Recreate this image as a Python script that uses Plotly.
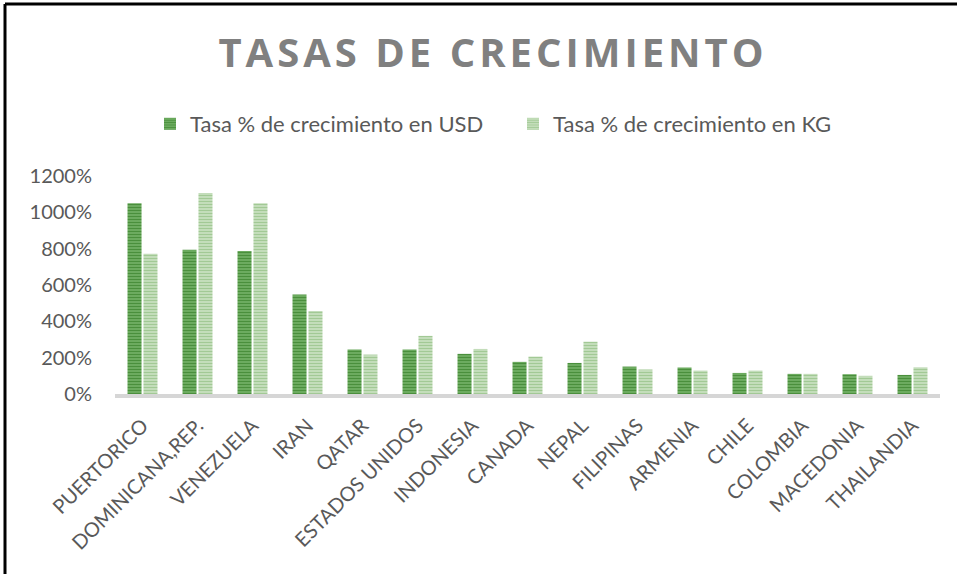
import plotly.graph_objects as go

categories = ["PUERTORICO", "DOMINICANA,REP.", "VENEZUELA", "IRAN", "QATAR",
              "ESTADOS UNIDOS", "INDONESIA", "CANADA", "NEPAL", "FILIPINAS",
              "ARMENIA", "CHILE", "COLOMBIA", "MACEDONIA", "THAILANDIA"]
usd_growth = [1050, 794, 787, 548, 245, 245, 221, 177, 171, 151, 146, 116, 111, 109, 105]
kg_growth = [772, 1107, 1050, 457, 217, 320, 248, 206, 288, 135, 129, 129, 111, 100, 147]
y_ticks = [0, 200, 400, 600, 800, 1000, 1200]
y_tick_labels = ["0%", "200%", "400%", "600%", "800%", "1000%", "1200%"]

W, H = 957, 574
L, R = 115, 940
T, B = 176, 394

def px_x(p):
    return (p - L) / (R - L)

def px_y(p):
    return (B - p) / (B - T)

fig = go.Figure()
fig.add_trace(go.Bar(
    x=categories, y=usd_growth, name="Tasa % de crecimiento en USD",
    marker=dict(color="#76b26a", line=dict(width=0),
                pattern=dict(shape="-", fgcolor="#4a8f3c", bgcolor="#7cb870",
                             size=3, solidity=0.55, fillmode="replace")),
))
fig.add_trace(go.Bar(
    x=categories, y=kg_growth, name="Tasa % de crecimiento en KG",
    marker=dict(color="#b5d6ab", line=dict(width=0),
                pattern=dict(shape="-", fgcolor="#a2c995", bgcolor="#d3e7cc",
                             size=3, solidity=0.55, fillmode="replace")),
))

title_text = "\u200a".join(list("TASAS DE CRECIMIENTO"))

fig.update_layout(
    width=W, height=H,
    margin=dict(l=L, r=W - R, t=T, b=H - B, pad=0),
    paper_bgcolor="white", plot_bgcolor="white",
    barmode="group", bargap=0.42, bargroupgap=0.12,
    font=dict(family="Lato, Carlito, sans-serif", color="#595959"),
    title=dict(text="<b>" + title_text + "</b>",
               font=dict(family="Open Sans, Lato, sans-serif", size=40, color="#808080"),
               xref="paper", x=px_x(491), xanchor="center",
               yref="container", y=1 - 53 / H, yanchor="middle"),
    legend=dict(orientation="h", x=px_x(150), xanchor="left",
                y=px_y(124), yanchor="middle", entrywidth=318,
                font=dict(size=22, color="#595959"),
                bgcolor="rgba(0,0,0,0)", traceorder="normal"),
    showlegend=True,
    xaxis=dict(type="category", tickangle=-45, showgrid=False, zeroline=False,
               showline=True, linecolor="#d6d6d6", linewidth=4,
               ticks="", ticklabelstandoff=8,
               tickfont=dict(size=20, color="#595959")),
    yaxis=dict(range=[0, 1200], tickvals=y_ticks, ticktext=y_tick_labels,
               showgrid=False, zeroline=False, showline=False, ticks="",
               ticklabelstandoff=22,
               tickfont=dict(size=20, color="#595959")),
    shapes=[
        dict(type="rect", xref="paper", yref="paper", layer="above",
             x0=px_x(942), x1=px_x(960), y0=px_y(7), y1=px_y(580),
             line=dict(width=0), fillcolor="white"),
        dict(type="line", xref="paper", yref="paper",
             x0=px_x(5), x1=px_x(960), y0=px_y(4), y1=px_y(4),
             line=dict(color="black", width=3)),
        dict(type="line", xref="paper", yref="paper",
             x0=px_x(5), x1=px_x(5), y0=px_y(4), y1=px_y(580),
             line=dict(color="black", width=3)),
    ],
)

fig.write_html(
    "out.html", config={"displayModeBar": False},
    post_script=("document.body.style.margin='0';"
                 "document.body.style.overflow='hidden';"
                 "document.documentElement.style.overflow='hidden';"),
)
